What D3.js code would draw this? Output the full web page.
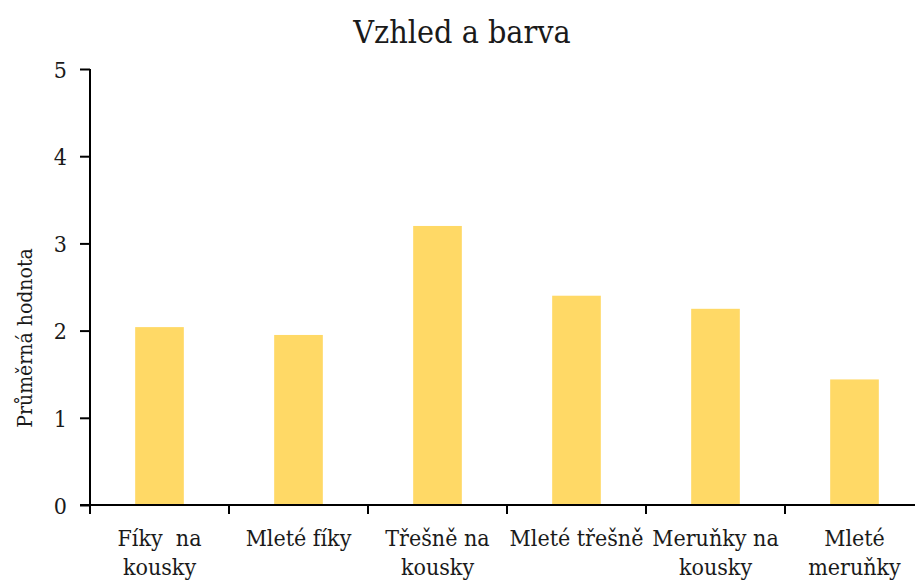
<!DOCTYPE html>
<html>
<head>
<meta charset="utf-8">
<script src="https://cdn.jsdelivr.net/npm/d3@7"></script>
<style>
  body { margin: 0; background: #fff; }
  svg text { font-stretch: condensed; }
</style>
</head>
<body>
<div class="canvas"></div>
<script>
const categories = [
  "Fíky  na kousky",
  "Mleté fíky",
  "Třešně na kousky",
  "Mleté třešně",
  "Meruňky na kousky",
  "Mleté meruňky",
];
const categoryLines = [
  ["Fíky  na", "kousky"],
  ["Mleté fíky"],
  ["Třešně na", "kousky"],
  ["Mleté třešně"],
  ["Meruňky na", "kousky"],
  ["Mleté", "meruňky"],
];
const values = [2.04, 1.95, 3.2, 2.4, 2.25, 1.44];
const yTicks = [0, 1, 2, 3, 4, 5];

const dims = { width: 915, height: 581 };
const plot = { left: 90, right: 924, top: 69, bottom: 505 };
// no Times-like serif resolves here, so use condensed DejaVu Serif
const serif = '"DejaVu Serif Condensed", "DejaVu Serif", serif';

const svg = d3
  .select(".canvas")
  .append("svg")
  .attr("width", dims.width)
  .attr("height", dims.height)
  .style("font-family", serif);

const x = d3
  .scaleBand()
  .domain(categories)
  .range([plot.left, plot.right])
  .paddingInner(0.65)
  .paddingOuter(0.325);

const y = d3.scaleLinear().domain([0, 5]).range([plot.bottom, plot.top]);

// title
svg
  .append("text")
  .attr("x", 462)
  .attr("y", 43)
  .attr("text-anchor", "middle")
  .attr("fill", "#1a1a1a")
  .style("font-family", serif)
  .style("font-size", "32px")
  .text("Vzhled a barva");

// bars
svg
  .selectAll("rect.bar")
  .data(values)
  .enter()
  .append("rect")
  .attr("class", "bar")
  .attr("x", (d, i) => x(categories[i]))
  .attr("y", (d) => y(d))
  .attr("width", x.bandwidth())
  .attr("height", (d) => y(0) - y(d))
  .attr("fill", "#FFD966");

// y axis
const yAxis = d3
  .axisLeft(y)
  .tickValues(yTicks)
  .tickSize(10)
  .tickPadding(13)
  .tickFormat(d3.format("d"));

const yG = svg
  .append("g")
  .attr("transform", `translate(${plot.left}, 0)`)
  .call(yAxis);
yG.select(".domain").remove();
yG.selectAll("line").attr("stroke", "#000").attr("stroke-width", 2);
yG.selectAll("text")
  .style("font-family", serif)
  .style("font-size", "23px")
  .attr("fill", "#1a1a1a")
  .attr("dy", "0.36em");
yG.append("line")
  .attr("x1", 0)
  .attr("x2", 0)
  .attr("y1", plot.top)
  .attr("y2", plot.bottom + 9)
  .attr("stroke", "#000")
  .attr("stroke-width", 2);

// x axis: line plus ticks at band boundaries
const step = x.step();
const xG = svg.append("g");
xG.append("line")
  .attr("x1", plot.left - 10)
  .attr("x2", plot.right)
  .attr("y1", plot.bottom)
  .attr("y2", plot.bottom)
  .attr("stroke", "#000")
  .attr("stroke-width", 2);

xG.selectAll("line.tick")
  .data(categories.slice(1))
  .enter()
  .append("line")
  .attr("class", "tick")
  .attr("x1", (d) => x(d) - (step - x.bandwidth()) / 2)
  .attr("x2", (d) => x(d) - (step - x.bandwidth()) / 2)
  .attr("y1", plot.bottom)
  .attr("y2", plot.bottom + 9)
  .attr("stroke", "#000")
  .attr("stroke-width", 2);

// category labels
const labels = xG
  .selectAll("text.cat")
  .data(categories)
  .enter()
  .append("text")
  .attr("class", "cat")
  .attr("text-anchor", "middle")
  .attr("fill", "#1a1a1a")
  .style("white-space", "pre")
  .style("font-family", serif)
  .style("font-size", "23px")
  .attr("x", (d) => x(d) + x.bandwidth() / 2);

labels
  .selectAll("tspan")
  .data((d, i) => categoryLines[i])
  .enter()
  .append("tspan")
  .attr("x", function () {
    return this.parentNode.getAttribute("x");
  })
  .attr("y", (d, i) => 546 + i * 28.5)
  .text((d) => d);

// y axis title
svg
  .append("text")
  .attr("transform", "translate(32, 338) rotate(-90)")
  .attr("text-anchor", "middle")
  .attr("fill", "#1a1a1a")
  .style("font-family", serif)
  .style("font-size", "21px")
  .text("Průměrná hodnota");
</script>
</body>
</html>
